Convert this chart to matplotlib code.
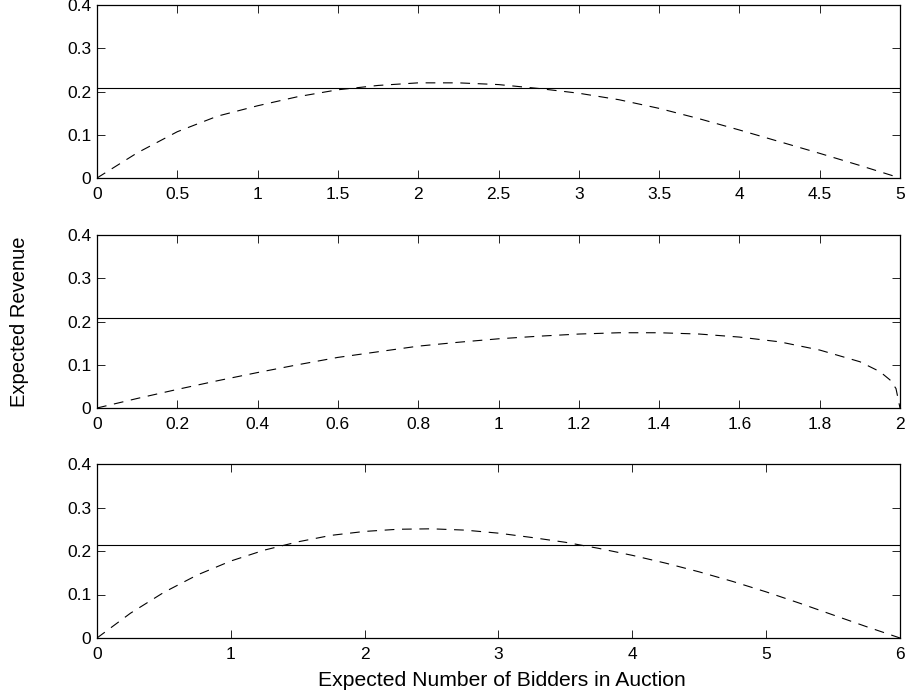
import matplotlib
matplotlib.use('Agg')
import matplotlib.pyplot as plt

# Panel 1: x from 0 to 5
x1 = [0, 0.25, 0.5, 0.75, 1.0, 1.25, 1.5, 1.75, 2.0, 2.25, 2.5, 2.75, 3.0,
      3.25, 3.5, 3.75, 4.0, 4.25, 4.5, 4.75, 5.0]
rev1 = [0, 0.058, 0.107, 0.143, 0.167, 0.188, 0.204, 0.214, 0.220, 0.220,
        0.216, 0.207, 0.196, 0.181, 0.161, 0.137, 0.111, 0.084, 0.057, 0.029, 0]
flat1 = 0.207

# Panel 2: x from 0 to 2
x2 = [0, 0.1, 0.2, 0.3, 0.4, 0.5, 0.6, 0.7, 0.8, 0.9, 1.0, 1.1, 1.2, 1.3,
      1.4, 1.5, 1.6, 1.7, 1.8, 1.9, 1.95, 1.975, 1.99, 2.0]
rev2 = [0, 0.022, 0.043, 0.063, 0.082, 0.100, 0.117, 0.130, 0.143, 0.152,
        0.160, 0.166, 0.171, 0.174, 0.174, 0.171, 0.164, 0.153, 0.134, 0.107,
        0.084, 0.065, 0.045, 0]
flat2 = 0.208

# Panel 3: x from 0 to 6
x3 = [0, 0.25, 0.5, 0.75, 1.0, 1.25, 1.5, 1.75, 2.0, 2.25, 2.5, 2.75, 3.0,
      3.25, 3.5, 3.75, 4.0, 4.25, 4.5, 4.75, 5.0, 5.25, 5.5, 5.75, 6.0]
rev3 = [0, 0.057, 0.105, 0.145, 0.177, 0.202, 0.221, 0.236, 0.245, 0.250,
        0.251, 0.248, 0.241, 0.231, 0.220, 0.206, 0.190, 0.172, 0.152, 0.130,
        0.106, 0.080, 0.053, 0.026, 0]
flat3 = 0.214

yticks = [0, 0.1, 0.2, 0.3, 0.4]
ytick_labels = ['0', '0.1', '0.2', '0.3', '0.4']
xticks1 = [0, 0.5, 1, 1.5, 2, 2.5, 3, 3.5, 4, 4.5, 5]
xtick_labels1 = ['0', '0.5', '1', '1.5', '2', '2.5', '3', '3.5', '4', '4.5', '5']
xticks2 = [0, 0.2, 0.4, 0.6, 0.8, 1, 1.2, 1.4, 1.6, 1.8, 2]
xtick_labels2 = ['0', '0.2', '0.4', '0.6', '0.8', '1', '1.2', '1.4', '1.6', '1.8', '2']
xticks3 = [0, 1, 2, 3, 4, 5, 6]
xtick_labels3 = ['0', '1', '2', '3', '4', '5', '6']

plt.rcParams['font.family'] = ['Liberation Sans', 'DejaVu Sans']
plt.rcParams['lines.scale_dashes'] = False

fig = plt.figure(figsize=(9.06, 6.94), dpi=100)

W, H = 906, 694
left, right = 97, 900
panels = [
    (5, 178, x1, rev1, flat1, xticks1, xtick_labels1),
    (235, 408, x2, rev2, flat2, xticks2, xtick_labels2),
    (464, 638, x3, rev3, flat3, xticks3, xtick_labels3),
]

for top, bottom, x, rev, flat, xt, xtl in panels:
    ax = fig.add_axes([left / W, (H - bottom) / H, (right - left) / W, (bottom - top) / H])
    ax.plot(x, rev, color='black', lw=0.8, linestyle=(0, (7, 5.5)))
    ax.axhline(flat, color='black', lw=0.8)
    ax.set_xlim(x[0], x[-1])
    ax.set_ylim(0, 0.4)
    ax.set_xticks(xt)
    ax.set_xticklabels(xtl)
    ax.set_yticks(yticks)
    ax.set_yticklabels(ytick_labels)
    ax.tick_params(direction='in', length=6, width=0.6, top=True, right=True,
                   labelsize=12.5, colors='black')
    ax.tick_params(axis='x', pad=6.5)
    ax.tick_params(axis='y', pad=4)
    for s in ax.spines.values():
        s.set_linewidth(0.9)

fig.text(20 / W, 1 - 322 / H, 'Expected Revenue', rotation=90,
         ha='center', va='center', fontsize=14.5)
fig.text(502 / W, 1 - 680 / H, 'Expected Number of Bidders in Auction',
         ha='center', va='center', fontsize=15.2)

fig.savefig('out.png', dpi=100)
